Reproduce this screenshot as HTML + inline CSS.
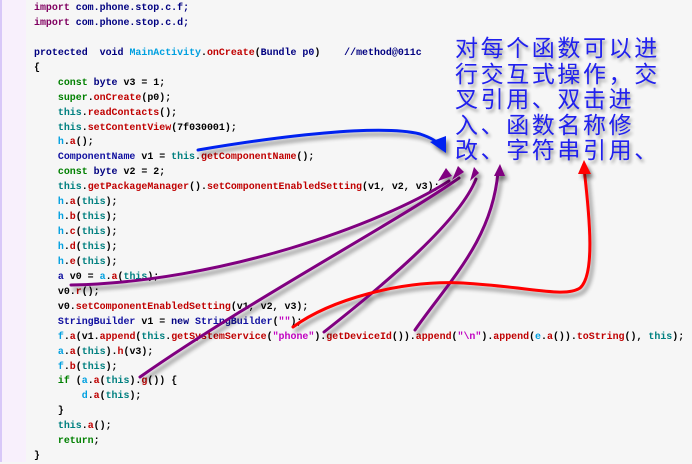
<!DOCTYPE html>
<html><head><meta charset="utf-8"><style>
html,body{margin:0;padding:0}
body{width:692px;height:462px;position:relative;overflow:hidden;background:#f6f6f6}
#strip{position:absolute;left:0;top:0;width:26px;height:462px;background:#f8f0fc;border-left:2px solid #d8c8f8;box-sizing:border-box}
#code{position:absolute;left:34px;top:1px;font-family:"Liberation Mono",monospace;font-weight:bold;font-size:9.95px;line-height:14.93px;white-space:pre;color:#000}
.k{color:#800060}.p{color:#000080}.g{color:#008000}.n{color:#000080}.t{color:#008080}.m{color:#c00000}.c{color:#00a0e0}.s{color:#c000c0}.v{color:#1010a0}
#cn{position:absolute;left:455px;top:34px;width:240px;white-space:nowrap;font-family:"Noto Sans CJK SC",sans-serif;font-size:23px;line-height:25.5px;color:#2020ee;text-shadow:2px 3px 3px #999;letter-spacing:2.6px}
svg{position:absolute;left:0;top:0}
</style></head><body>
<div id="strip"></div>
<div id="code"><span class="k">import</span> <span class="p">com.phone.stop.c.f;</span>
<span class="k">import</span> <span class="p">com.phone.stop.c.d;</span>

<span class="n">protected</span>  <span class="n">void</span> <span class="c">MainActivity</span>.<span class="m">onCreate</span>(<span class="n">Bundle p0</span>)    <span class="n">//method@011c</span>
{
    <span class="g">const</span> <span class="n">byte</span> v3 = 1;
    <span class="g">super</span>.<span class="m">onCreate</span>(p0);
    <span class="t">this</span>.<span class="m">readContacts</span>();
    <span class="t">this</span>.<span class="m">setContentView</span>(7f030001);
    <span class="c">h</span>.<span class="m">a</span>();
    <span class="v">ComponentName</span> v1 = <span class="t">this</span>.<span class="m">getComponentName</span>();
    <span class="g">const</span> <span class="n">byte</span> v2 = 2;
    <span class="t">this</span>.<span class="m">getPackageManager</span>().<span class="m">setComponentEnabledSetting</span>(v1, v2, v3);
    <span class="c">h</span>.<span class="m">a</span>(<span class="t">this</span>);
    <span class="c">h</span>.<span class="m">b</span>(<span class="t">this</span>);
    <span class="c">h</span>.<span class="m">c</span>(<span class="t">this</span>);
    <span class="c">h</span>.<span class="m">d</span>(<span class="t">this</span>);
    <span class="c">h</span>.<span class="m">e</span>(<span class="t">this</span>);
    <span class="v">a</span> v0 = <span class="c">a</span>.<span class="m">a</span>(<span class="t">this</span>);
    v0.<span class="m">r</span>();
    v0.<span class="m">setComponentEnabledSetting</span>(v1, v2, v3);
    <span class="v">StringBuilder</span> v1 = <span class="n">new</span> <span class="v">StringBuilder</span>(<span class="s">""</span>);
    <span class="c">f</span>.<span class="m">a</span>(v1.<span class="m">append</span>(<span class="t">this</span>.<span class="m">getSystemService</span>(<span class="s">"phone"</span>).<span class="m">getDeviceId</span>()).<span class="m">append</span>(<span class="s">"\n"</span>).<span class="m">append</span>(<span class="c">e</span>.<span class="m">a</span>()).<span class="m">toString</span>(), <span class="t">this</span>);
    <span class="c">a</span>.<span class="m">a</span>(<span class="t">this</span>).<span class="m">h</span>(v3);
    <span class="c">f</span>.<span class="m">b</span>(<span class="t">this</span>);
    <span class="g">if</span> (<span class="c">a</span>.<span class="m">a</span>(<span class="t">this</span>).<span class="m">g</span>()) {
        <span class="c">d</span>.<span class="m">a</span>(<span class="t">this</span>);
    }
    <span class="t">this</span>.<span class="m">a</span>();
    <span class="g">return</span>;
}</div>
<div id="cn">对每个函数可以进<br>行交互式操作，交<br>叉引用、双击进<br>入、函数名称修<br>改、字符串引用、</div>
<svg width="692" height="462">
<defs>
<filter id="sh" x="-10%" y="-10%" width="130%" height="130%"><feGaussianBlur in="SourceAlpha" stdDeviation="2"/><feOffset dx="3" dy="4"/><feComponentTransfer><feFuncA type="linear" slope="0.45"/></feComponentTransfer><feMerge><feMergeNode/><feMergeNode in="SourceGraphic"/></feMerge></filter>
</defs>
<g filter="url(#sh)" fill="none" stroke-width="3" stroke-linecap="round">
<path d="M198 150 C280 136 380 124 420 134 C432 138 438 142 440 146" stroke="#0020f0"/>
<path d="M71 285 C220 282 380 225 449 181" stroke="#800080"/>
<path d="M140 377 C250 300 400 220 459 178" stroke="#800080"/>
<path d="M324 332 C390 280 460 220 476 179" stroke="#800080"/>
<path d="M415 330 C450 280 492 240 498 172" stroke="#800080"/>
<path d="M293 327 C330 300 400 280 463 283 C530 287 565 298 580 288 C595 275 590 220 584 168" stroke="#ff0000"/>
</g>
<g filter="url(#sh)">
<polygon points="446,153 430,142 446,136" fill="#0020f0"/>
<polygon points="452,176 438,181 446,168" fill="#800080"/>
<polygon points="464,172 452,180 458,166" fill="#800080"/>
<polygon points="479,173 470,181 474,167" fill="#800080"/>
<polygon points="500,164 494,176 505,176" fill="#800080"/>
<polygon points="584,160 578,174 591,174" fill="#ff0000"/>
</g>
</svg>
</body></html>
